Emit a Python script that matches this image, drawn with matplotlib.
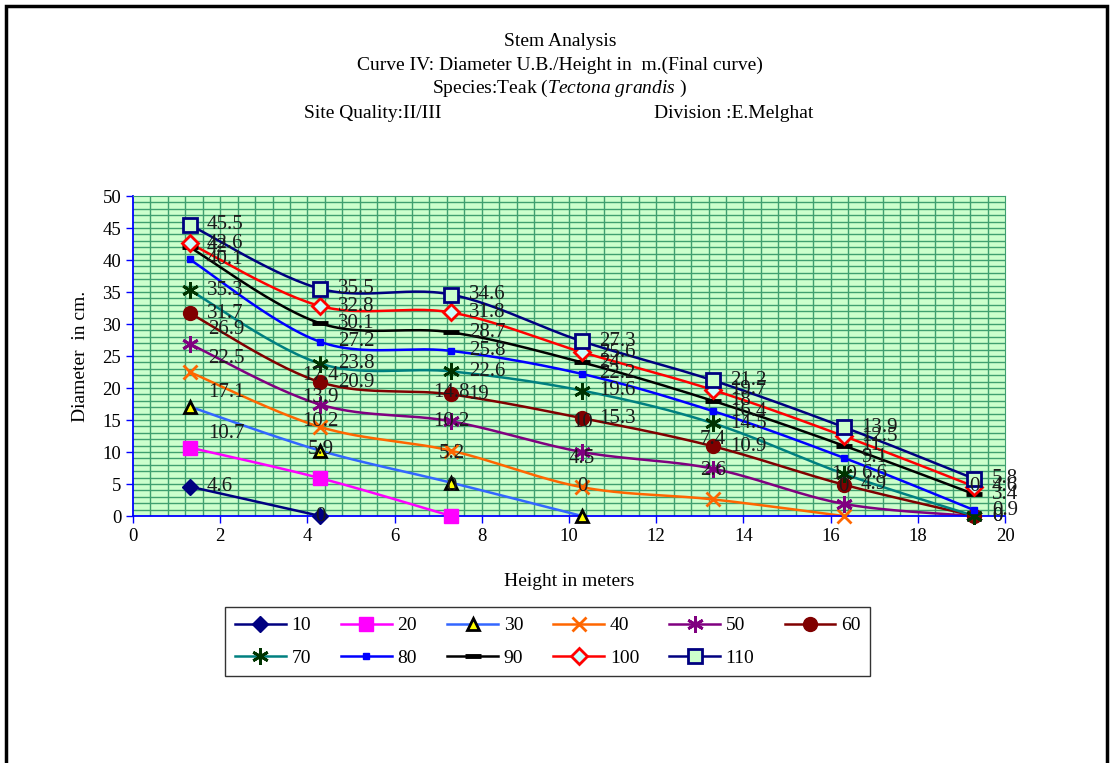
import numpy as np
import matplotlib.pyplot as plt
from matplotlib.patches import Rectangle
from matplotlib.lines import Line2D

plt.rcParams['font.family'] = ['Liberation Serif', 'DejaVu Serif']
plt.rcParams['mathtext.fontset'] = 'custom'
plt.rcParams['mathtext.rm'] = 'Liberation Serif'
plt.rcParams['mathtext.it'] = 'Liberation Serif:italic'

heights = [1.3, 4.3, 7.3, 10.3, 13.3, 16.3, 19.3]
names = ['10', '20', '30', '40', '50', '60', '70', '80', '90', '100', '110']

d10 = [4.6, 0]
d20 = [10.7, 5.9, 0]
d30 = [17.1, 10.2, 5.2, 0]
d40 = [22.5, 13.9, 10.2, 4.5, 2.6, 0]
d50 = [26.9, 17.4, 14.8, 10, 7.4, 1.9, 0]
d60 = [31.7, 20.9, 19, 15.3, 10.9, 4.9, 0]
d70 = [35.3, 23.8, 22.6, 19.6, 14.5, 6.6, 0]
d80 = [40.1, 27.2, 25.8, 22.2, 16.4, 9.1, 0.9]
d90 = [42.0, 30.1, 28.7, 24, 18, 11, 3.4]
d100 = [42.6, 32.8, 31.8, 25.6, 19.7, 12.5, 4.6]
d110 = [45.5, 35.5, 34.6, 27.3, 21.2, 13.9, 5.8]
series = [d10, d20, d30, d40, d50, d60, d70, d80, d90, d100, d110]

# line colour, marker, marker size, face, edge
styles = [
    ('#000080', 'D', 8, '#000080', '#000080'),
    ('#FF00FF', 's', 10, '#FF00FF', '#FF00FF'),
    ('#3366FF', '^', 9, '#FFFF00', '#000000'),
    ('#FF6600', 'x', 10, '#FF6600', '#FF6600'),
    ('#800080', (6, 2, 0), 12, '#800080', '#800080'),
    ('#800000', 'o', 10, '#800000', '#800000'),
    ('#008080', (6, 2, 0), 12, '#003300', '#003300'),
    ('#0000FF', 's', 4, '#0000FF', '#0000FF'),
    ('#000000', '_', 11, '#000000', '#000000'),
    ('#FF0000', 'D', 8, '#CCFFFF', '#FF0000'),
    ('#000080', 's', 10, '#CCFFCC', '#000080'),
]


def smooth(x, y, n=30):
    # Excel-like smoothed line (cubic bezier, 1/6 tangent)
    x = np.asarray(x, float)
    y = np.asarray(y, float)
    if len(x) < 3:
        return x, y
    px = np.concatenate([[x[0]], x, [x[-1]]])
    py = np.concatenate([[y[0]], y, [y[-1]]])
    t = np.linspace(0, 1, n)
    ox, oy = [], []
    for i in range(len(x) - 1):
        p0 = np.array([px[i + 1], py[i + 1]])
        p3 = np.array([px[i + 2], py[i + 2]])
        p1 = p0 + (np.array([px[i + 2], py[i + 2]]) - np.array([px[i], py[i]])) / 6
        p2 = p3 - (np.array([px[i + 3], py[i + 3]]) - np.array([px[i + 1], py[i + 1]])) / 6
        b = ((1 - t) ** 3)[:, None] * p0 + (3 * (1 - t) ** 2 * t)[:, None] * p1 \
            + (3 * (1 - t) * t ** 2)[:, None] * p2 + (t ** 3)[:, None] * p3
        ox.extend(b[:, 0])
        oy.extend(b[:, 1])
    return np.array(ox), np.array(oy)


fig = plt.figure(figsize=(11.11, 7.63), dpi=100)
ax = fig.add_axes([0.1197, 0.3237, 0.7849, 0.4194])
ax.set_facecolor('#CCFFCC')
ax.set_xlim(0, 20)
ax.set_ylim(0, 50)

grid = '#3F9F6F'
for gx in np.arange(0.4, 20, 0.4):
    ax.axvline(gx, color=grid, lw=1, zorder=0)
for gy in np.arange(1, 50, 1):
    ax.axhline(gy, color=grid, lw=1, zorder=0)

handles = []
for k, (vals, st) in enumerate(zip(series, styles)):
    col, mk, ms, fc, ec = st
    xs = heights[:len(vals)]
    sx, sy = smooth(xs, vals)
    ax.plot(sx, sy, color=col, lw=1.8, zorder=2, clip_on=False)
    mew = 3.5 if mk == '_' else (2 if mk in ('x', (6, 2, 0)) or fc != ec else 1)
    ax.plot(xs, vals, ls='none', marker=mk, ms=ms, mfc=fc, mec=ec, mew=mew,
            zorder=3, clip_on=False)
    handles.append(Line2D([], [], color=col, lw=1.8, marker=mk, ms=ms, mfc=fc,
                          mec=ec, mew=mew))
    for i, (xv, yv) in enumerate(zip(xs, vals)):
        txt = '%g' % yv
        if k >= 5:
            off, ha = (12.5, 0), 'left'
        elif k == 0:
            off, ha = ((12.5, 0), 'left') if i == 0 else ((0, 0), 'center')
        elif i == 0:
            off, ha = (13, 10), 'left'
        else:
            off, ha = (0, 21), 'center'
        ax.annotate(txt, (xv, yv), xytext=off, textcoords='offset points',
                    ha=ha, va='center', fontsize=15, color='#1a1a1a',
                    zorder=4, annotation_clip=False)

ax.set_xticks(range(0, 21, 2))
ax.set_yticks(range(0, 51, 5))
ax.tick_params(labelsize=13.5, colors='#0000FF', labelcolor='black',
               direction='out', length=5, width=1)
for s in ['left', 'bottom']:
    ax.spines[s].set_color('#0000FF')
    ax.spines[s].set_linewidth(1.3)
for s in ['top', 'right']:
    ax.spines[s].set_color(grid)
ax.set_xlabel('Height in meters', fontsize=14, labelpad=20)
ax.set_ylabel('Diameter  in cm.', fontsize=14, labelpad=10)

fs = 14
fig.text(0.504, 0.946, 'Stem Analysis', ha='center', va='center', fontsize=fs)
fig.text(0.504, 0.915, 'Curve IV: Diameter U.B./Height in  m.(Final curve)',
         ha='center', va='center', fontsize=fs)
fig.text(0.504, 0.884, 'Species:Teak ($\\it{Tectona\\ grandis}$ )',
         ha='center', va='center', fontsize=fs)
fig.text(0.274, 0.851, 'Site Quality:II/III', ha='left', va='center', fontsize=fs)
fig.text(0.589, 0.851, 'Division :E.Melghat', ha='left', va='center', fontsize=fs)

# fill the legend row by row: column-major order for 2 rows x 6 columns
order = [0, 6, 1, 7, 2, 8, 3, 9, 4, 10, 5]
leg = fig.legend([handles[i] for i in order], [names[i] for i in order],
                 loc='center', bbox_to_anchor=(0.493, 0.159),
                 ncol=6, fontsize=14, frameon=True, fancybox=False,
                 edgecolor='black', handlelength=2.6, columnspacing=1.55,
                 handletextpad=0.3, borderpad=0.5, labelspacing=0.75)
leg.get_frame().set_linewidth(1)

# outer chart border
fig.patches.append(Rectangle((0.0055, -0.01), 0.991, 1.002, transform=fig.transFigure,
                             fill=False, edgecolor='black', lw=2.5))

fig.savefig('out.png', dpi=100)
